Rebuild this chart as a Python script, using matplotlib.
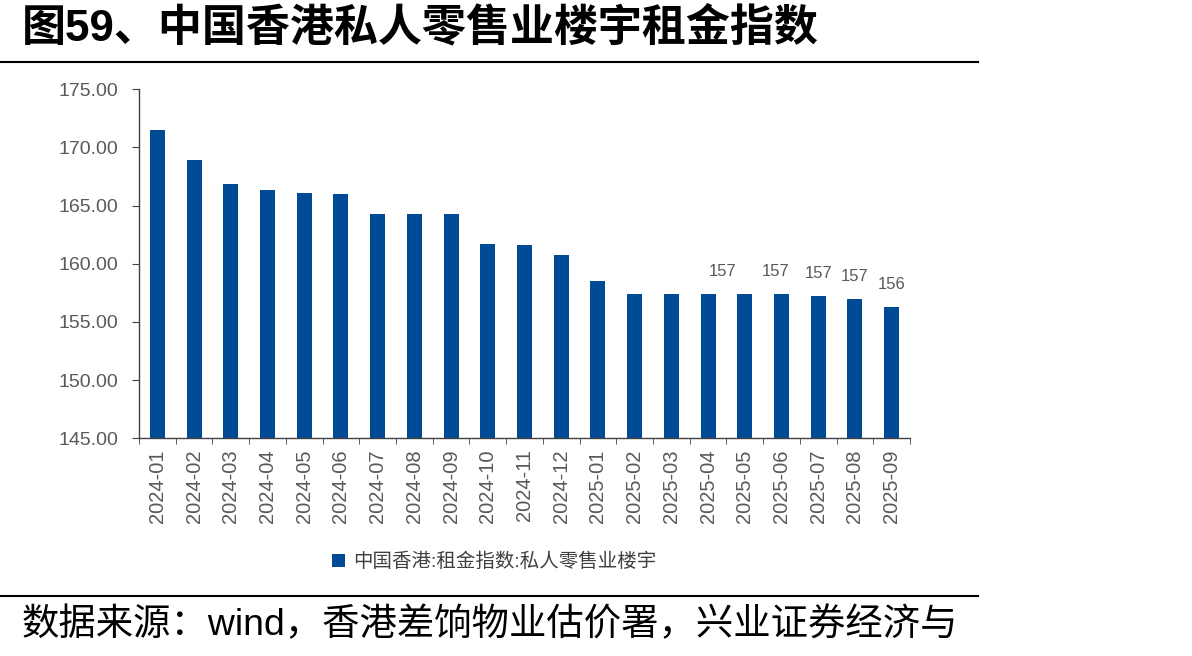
import matplotlib
matplotlib.use('Agg')
import matplotlib.pyplot as plt
from matplotlib.lines import Line2D
import numpy as np

plt.rcParams['font.family'] = ['Liberation Sans', 'Noto Sans CJK SC', 'DejaVu Sans']

# data
months = ['2024-01', '2024-02', '2024-03', '2024-04', '2024-05', '2024-06', '2024-07',
          '2024-08', '2024-09', '2024-10', '2024-11', '2024-12', '2025-01', '2025-02',
          '2025-03', '2025-04', '2025-05', '2025-06', '2025-07', '2025-08', '2025-09']
rent_index = [171.5, 168.9, 166.9, 166.3, 166.06, 165.97, 164.3,
              164.3, 164.3, 161.7, 161.6, 160.76, 158.5, 157.38,
              157.38, 157.38, 157.38, 157.38, 157.23, 156.95, 156.3]
labelled = ['2025-05', '2025-06', '2025-07', '2025-08', '2025-09']

title = '图59、中国香港私人零售业楼宇租金指数'
series_name = '中国香港:租金指数:私人零售业楼宇'
source = '数据来源：wind，香港差饷物业估价署，兴业证券经济与'

bar_color = '#004A96'
grey = '#595959'

fig = plt.figure(figsize=(11.92, 6.56), dpi=100)
ax = fig.add_axes([0.1166, 0.3319, 0.6468, 0.532])

x = np.arange(len(months))
bars = ax.bar(x, rent_index, width=0.41, color=bar_color, label=series_name)

ax.set_ylim(145, 175)
ax.set_yticks(np.arange(145, 175.1, 5))
ax.set_yticklabels(['%.2f' % v for v in np.arange(145, 175.1, 5)])
ax.set_xlim(-0.5, len(months) - 0.5)
ax.set_xticks(x)
ax.set_xticklabels(months, rotation=90)
ax.set_xticks(np.arange(-0.5, len(months), 1), minor=True)
ax.tick_params(axis='x', which='major', length=0, pad=8, labelsize=14.5, labelcolor=grey)
ax.tick_params(axis='x', which='minor', length=4, direction='out', color='#404040')
ax.tick_params(axis='y', length=5, direction='out', pad=10, labelsize=14,
               labelcolor=grey, color='#404040')

for s in ['top', 'right']:
    ax.spines[s].set_visible(False)
for s in ['left', 'bottom']:
    ax.spines[s].set_color('#404040')
    ax.spines[s].set_linewidth(1)

# value labels on last bars (a couple nudged left like the original)
nudge = {'2025-05': -16, '2025-06': -4}
for i, m in enumerate(months):
    if m in labelled:
        ax.annotate('%d' % round(rent_index[i]), (x[i], rent_index[i]),
                    xytext=(nudge.get(m, 0), 11), textcoords='offset points',
                    ha='center', va='bottom', fontsize=12, color=grey)

leg = fig.legend(handles=[bars], labels=[series_name], loc='center',
                 bbox_to_anchor=(494 / 1192, 1 - 562 / 656), frameon=False,
                 fontsize=14, handlelength=0.7, handleheight=0.7,
                 handletextpad=0.4)
for t in leg.get_texts():
    t.set_color('#404040')

fig.text(22 / 1192, 1 - 28 / 656, title, fontsize=31.7, weight='bold',
         va='center', ha='left', color='black')
fig.add_artist(Line2D([0, 978 / 1192], [1 - 62 / 656] * 2, color='black', lw=1.5))
fig.add_artist(Line2D([0, 978 / 1192], [1 - 596 / 656] * 2, color='black', lw=1.5))
fig.text(22 / 1192, 1 - 625 / 656, source, fontsize=26.9, va='center', ha='left',
         color='black')

fig.savefig('out.png', dpi=100)
